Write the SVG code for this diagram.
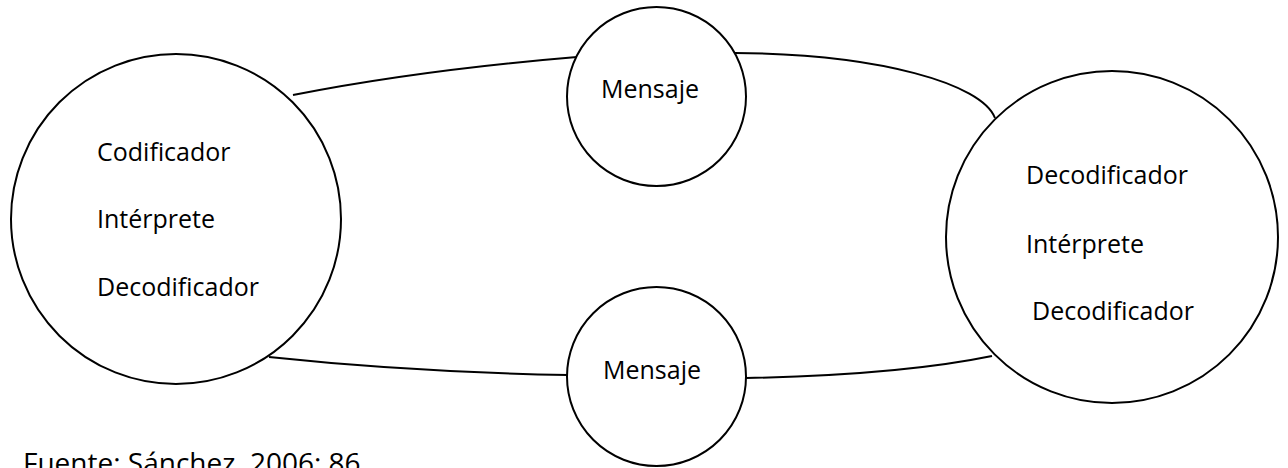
<svg xmlns="http://www.w3.org/2000/svg" width="1288" height="468" viewBox="0 0 1288 468">
<style>
.c{fill:#fff;stroke:#000;stroke-width:2}
.l{fill:none;stroke:#000;stroke-width:2}
text{font-family:"Open Sans","Liberation Sans",sans-serif;font-size:25px;fill:#000}
</style>
<rect width="1288" height="468" fill="#fff"/>
<g id="connectors">
<path class="l" d="M293,95 Q420,70 577,57"/>
<path class="l" d="M735,53 C880,54 982,84 995,118"/>
<path class="l" d="M269,357 Q410,372 568,375"/>
<path class="l" d="M746,378 Q900,375 992,356"/>
</g>
<g id="emisor">
<circle class="c" cx="176" cy="219" r="165"/>
<text x="97" y="161">Codificador</text>
<text x="97" y="228">Intérprete</text>
<text x="97" y="296">Decodificador</text>
</g>
<g id="mensaje-top">
<circle class="c" cx="656.5" cy="96.5" r="89.5"/>
<text x="601" y="98">Mensaje</text>
</g>
<g id="mensaje-bottom">
<circle class="c" cx="656.5" cy="376.5" r="89.5"/>
<text x="603" y="379">Mensaje</text>
</g>
<g id="receptor">
<circle class="c" cx="1112" cy="237" r="166"/>
<text x="1026" y="184">Decodificador</text>
<text x="1026" y="253">Intérprete</text>
<text x="1032" y="320">Decodificador</text>
</g>
<text x="23" y="473" style="font-size:28px">Fuente: Sánchez, 2006: 86</text>
</svg>
